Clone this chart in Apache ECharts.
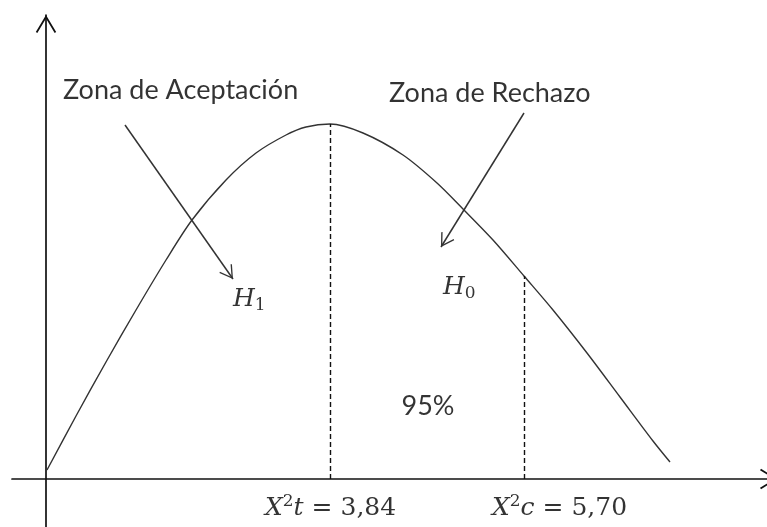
<!DOCTYPE html>
<html>
<head>
<meta charset="utf-8">
<script src="https://cdn.jsdelivr.net/npm/echarts@6/dist/echarts.min.js"></script>
<style>html,body{margin:0;padding:0;background:#fff}#c{width:767px;height:527px}</style>
</head>
<body>
<div id="c"></div>
<script>
// Curve (x, y) in drawing units, origin at axes crossing
const curveX = [1, 30, 60, 90, 120, 146, 180, 210, 240, 260, 284, 317, 357, 391, 417, 447, 478, 507, 541, 574, 607, 624];
const curveY = [9, 63, 117, 169, 219, 259, 299, 326, 344, 352, 355, 346, 324, 296, 270, 239, 203, 169, 126, 82, 38, 17];
// Critical values (dashed lines): x position and top on curve
const criticalX = [284, 478];
const criticalTop = [355, 203];
// Annotation arrows [from, to]
const arrowFrom = [[79, 354], [478, 366]];
const arrowTo = [[187, 200], [395, 232]];

const CHEV = 'path://M0,0 L6,10 L5.1,10.6 L0,2 L-5.1,10.6 L-6,10 Z M-10.6,-10.6 L-10.6,-10.6 Z M10.6,10.6 L10.6,10.6 Z';
const SANS = 'Lato';
const SERIF = 'DejaVu Serif';

const chart = echarts.init(document.getElementById('c'), null, {renderer: 'canvas'});

const axisCommon = {
  type: 'value',
  axisTick: {show: false},
  axisLabel: {show: false},
  splitLine: {show: false},
  axisLine: {show: true, onZero: true, symbol: ['none', CHEV], symbolSize: [36, 36],
    lineStyle: {color: '#111', width: 1.7}}
};

const mathRich = {
  i: {fontFamily: SERIF, fontStyle: 'italic', fontSize: 25, color: '#000', lineHeight: 30},
  sup: {fontFamily: SERIF, fontSize: 17, color: '#000', verticalAlign: 'top', lineHeight: 16},
  sub: {fontFamily: SERIF, fontSize: 17, color: '#000', verticalAlign: 'bottom', lineHeight: 16},
  n: {fontFamily: SERIF, fontSize: 25, color: '#000', lineHeight: 30},
  z: {fontFamily: SANS, fontSize: 27, color: '#000'}
};

const texts = [
  {value: [17, 389], f: '{z|Zona de Aceptación}', align: 'left'},
  {value: [343, 386], f: '{z|Zona de Rechazo}', align: 'left'},
  {value: [187, 180], f: '{i|H}{sub|1}', align: 'left'},
  {value: [397, 192], f: '{i|H}{sub|0}', align: 'left'},
  {value: [382, 73], f: '{z|95%}', align: 'center'},
  {value: [219, -29], f: '{i|X}{sup|2}{i|t}{n| = 3,84}', align: 'left'},
  {value: [446, -29], f: '{i|X}{sup|2}{i|c}{n| = 5,70}', align: 'left'}
];

chart.setOption({
  animation: false,
  grid: {left: 12, right: -11, top: 15, bottom: 0, containLabel: false, outerBoundsMode: 'none'},
  xAxis: Object.assign({}, axisCommon, {min: -34, max: 732}),
  yAxis: Object.assign({}, axisCommon, {min: -48, max: 464}),
  series: [
    {
      type: 'line',
      data: curveX.map((x, i) => [x, curveY[i]]),
      smooth: 0.3,
      showSymbol: false,
      lineStyle: {color: '#333', width: 1.4},
      silent: true,
      markLine: {
        silent: true,
        symbol: ['none', 'none'],
        label: {show: false},
        lineStyle: {color: '#111', width: 1.4, type: [5, 3]},
        data: criticalX.map((x, i) => [{coord: [x, 0]}, {coord: [x, criticalTop[i]]}])
      }
    },
    {
      type: 'line',
      data: [],
      markLine: {
        silent: true,
        symbol: ['none', CHEV],
        symbolSize: 27,
        label: {show: false},
        lineStyle: {color: '#333', width: 1.5, type: 'solid'},
        data: arrowFrom.map((p, i) => [{coord: p}, {coord: arrowTo[i]}])
      }
    },
    {
      type: 'scatter',
      symbolSize: 0,
      silent: true,
      data: texts.map(t => ({
        value: t.value,
        label: {show: true, position: 'inside', align: t.align, verticalAlign: 'middle',
          formatter: t.f, rich: mathRich}
      }))
    }
  ]
});
</script>
</body>
</html>
